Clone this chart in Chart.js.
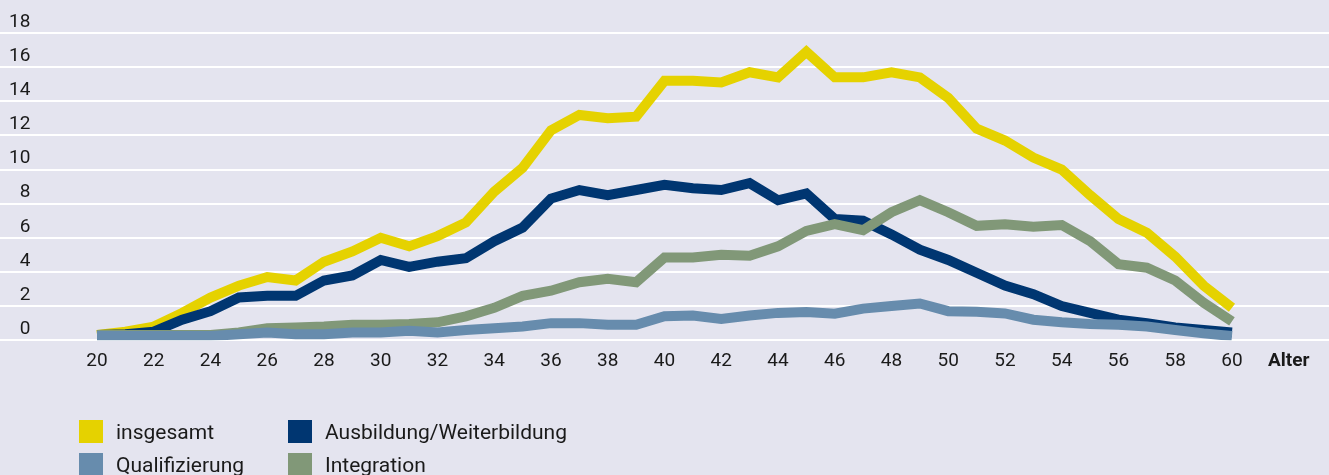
<!DOCTYPE html>
<html>
<head>
<meta charset="utf-8">
<script src="https://cdn.jsdelivr.net/npm/chart.js@4/dist/chart.umd.min.js"></script>
<style>
  html, body { margin: 0; padding: 0; background: #e4e4ef; }
  #wrap { position: relative; width: 1329px; height: 475px; background: #e4e4ef; overflow: hidden; }
  #wrap canvas { position: absolute; left: 0; top: 0; }
  #legend { position: absolute; left: 79px; top: 420px; display: grid; grid-template-columns: 209px auto; row-gap: 10px;
            font-family: Roboto, "DejaVu Sans", sans-serif; font-size: 21px; color: #1a1a1a; }
  .item { display: flex; align-items: center; height: 23px; }
  .sw { width: 24px; height: 23px; margin-right: 13px; flex: none; }
</style>
</head>
<body>
<div id="wrap">
  <canvas id="c" width="1329" height="475"></canvas>
  <div id="legend"></div>
</div>
<script>
// Data (Alter 20..60)
const ages = [20,21,22,23,24,25,26,27,28,29,30,31,32,33,34,35,36,37,38,39,40,41,42,43,44,45,46,47,48,49,50,51,52,53,54,55,56,57,58,59,60];
const insgesamt = [0.3,0.5,0.8,1.6,2.5,3.2,3.7,3.5,4.6,5.2,6.0,5.5,6.1,6.9,8.7,10.1,12.3,13.2,13.0,13.1,15.2,15.2,15.1,15.7,15.4,16.9,15.4,15.4,15.7,15.4,14.2,12.4,11.7,10.7,10.0,8.5,7.1,6.3,4.9,3.2,1.9];
const ausbildung = [0.3,0.35,0.5,1.2,1.7,2.5,2.6,2.6,3.5,3.8,4.7,4.3,4.6,4.8,5.8,6.6,8.3,8.8,8.5,8.8,9.1,8.9,8.8,9.2,8.2,8.6,7.1,7.0,6.2,5.3,4.7,3.95,3.2,2.7,2.0,1.6,1.2,1.0,0.75,0.6,0.45];
const qualifizierung = [0.25,0.25,0.25,0.25,0.25,0.35,0.45,0.35,0.35,0.45,0.45,0.55,0.45,0.6,0.7,0.8,1.0,1.0,0.9,0.9,1.4,1.45,1.25,1.45,1.6,1.65,1.55,1.85,2.0,2.15,1.7,1.67,1.57,1.2,1.05,0.95,0.9,0.8,0.6,0.4,0.25];
const integration = [0.3,0.3,0.3,0.3,0.3,0.45,0.7,0.75,0.8,0.9,0.9,0.95,1.05,1.4,1.9,2.6,2.9,3.4,3.6,3.4,4.85,4.85,5.0,4.95,5.5,6.4,6.8,6.45,7.5,8.2,7.5,6.7,6.8,6.65,6.75,5.8,4.45,4.25,3.5,2.2,1.1];
const seriesNames = ["insgesamt", "Ausbildung/Weiterbildung", "Qualifizierung", "Integration"];
const xTickValues = [20,22,24,26,28,30,32,34,36,38,40,42,44,46,48,50,52,54,56,58,60,62];
const xTickLabels = ["20","22","24","26","28","30","32","34","36","38","40","42","44","46","48","50","52","54","56","58","60","Alter"];
const yTickValues = [0,2,4,6,8,10,12,14,16,18];

const colors = ["#e5d200", "#003671", "#678cad", "#819878"];
const drawOrder = [4, 3, 1, 2];
const seriesValues = [insgesamt, ausbildung, qualifizierung, integration];

const datasets = seriesValues.map((vals, i) => ({
  label: seriesNames[i],
  data: vals.map((v, k) => ({ x: ages[k], y: v })),
  borderColor: colors[i],
  backgroundColor: colors[i],
  borderWidth: 10,
  pointRadius: 0,
  tension: 0,
  fill: false,
  order: drawOrder[i],
  borderJoinStyle: 'miter',
  borderCapStyle: 'butt'
}));

const FONT = "Roboto, 'DejaVu Sans', sans-serif";

new Chart(document.getElementById('c'), {
  type: 'line',
  data: { datasets },
  options: {
    responsive: false,
    animation: false,
    layout: { padding: { top: 33, left: 0, right: 0, bottom: 92 } },
    plugins: { legend: { display: false }, tooltip: { enabled: false } },
    scales: {
      x: {
        type: 'linear',
        min: 16.58,
        max: 63.42,
        grid: { display: false, drawTicks: false },
        border: { display: false },
        afterBuildTicks: (scale) => { scale.ticks = xTickValues.map(v => ({ value: v })); },
        ticks: {
          autoSkip: false,
          maxRotation: 0,
          padding: 10,
          color: '#1a1a1a',
          font: (ctx) => ({ family: FONT, size: 19, weight: (ctx.tick && ctx.tick.value === 62) ? 'bold' : 'normal' }),
          callback: (value) => xTickLabels[xTickValues.indexOf(value)]
        }
      },
      y: {
        min: 0,
        max: 18,
        grid: { color: '#ffffff', lineWidth: 2, drawTicks: false },
        border: { display: false },
        afterBuildTicks: (scale) => { scale.ticks = yTickValues.map(v => ({ value: v })); },
        afterFit: (scale) => { scale.width = 0; },
        ticks: {
          mirror: true,
          crossAlign: 'far',
          padding: 9,
          labelOffset: -11,
          color: '#1a1a1a',
          font: { family: FONT, size: 19 },
          callback: (v) => String(v)
        }
      }
    }
  }
});

// HTML legend, 2x2 grid
const leg = document.getElementById('legend');
datasets.forEach(ds => {
  const it = document.createElement('div');
  it.className = 'item';
  const sw = document.createElement('span');
  sw.className = 'sw';
  sw.style.background = ds.borderColor;
  const tx = document.createElement('span');
  tx.textContent = ds.label;
  it.appendChild(sw); it.appendChild(tx);
  leg.appendChild(it);
});
</script>
</body>
</html>
